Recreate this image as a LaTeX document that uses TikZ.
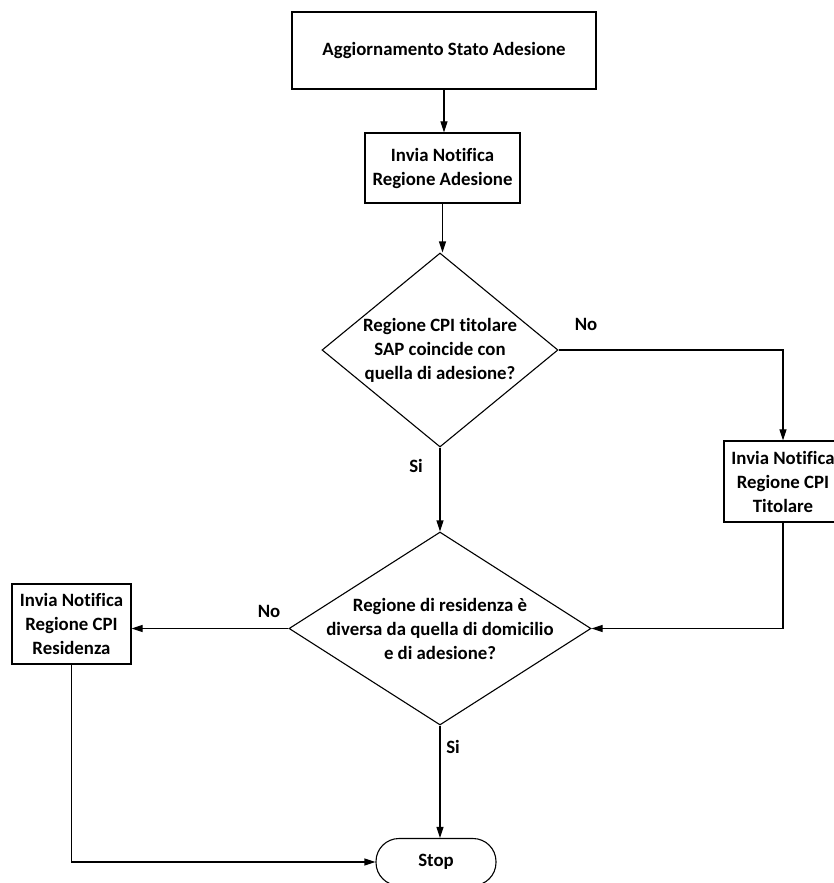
\documentclass[tikz,border=0pt]{standalone}
\usepackage{fontspec}
\setmainfont{Carlito}[Ligatures=NoCommon]
\usetikzlibrary{shapes.geometric,arrows.meta}
\begin{document}
\begin{tikzpicture}[x=1pt,y=-1pt,
  every node/.style={font=\bfseries\fontsize{18.8}{24}\selectfont},
  box/.style={draw, line width=1.3pt, align=center, inner sep=0pt},
  dec/.style={draw, diamond, line width=1.1pt, inner sep=0pt, aspect=1.2},
  term/.style={draw, line width=1.1pt, rounded corners=23pt, minimum width=120pt, minimum height=47pt, inner sep=0pt},
  conn/.style={line width=1.1pt, -{Triangle[length=11pt,width=7pt]}},
  lbl/.style={inner sep=0pt}]
\useasboundingbox (0,0) rectangle (834,883);
\clip (0,0) rectangle (834,883);
\fill[white] (0,0) rectangle (834,883);

\node[box, minimum width=304pt, minimum height=77pt] (b1) at (444,50.5) {Aggiornamento Stato Adesione};
\node[box, minimum width=155pt, minimum height=70pt] (b2) at (442.5,168) {Invia Notifica\\Regione Adesione};
\node[dec, minimum width=236pt, minimum height=194pt] (d1) at (440,350) {};
\node[align=center] (t1) at (d1) {Regione CPI titolare\\SAP coincide con\\quella di adesione?};
\node[box, minimum width=118pt, minimum height=81pt] (b3) at (783,481.5) {Invia Notifica\\Regione CPI\\Titolare};
\node[dec, minimum width=302pt, minimum height=193pt] (d2) at (440,628.5) {};
\node[align=center] (t2) at (d2) {Regione di residenza è\\diversa da quella di domicilio\\e di adesione?};
\node[box, minimum width=119pt, minimum height=80pt] (b4) at (71.5,624) {Invia Notifica\\Regione CPI\\Residenza};
\node[term] (stop) at (436,862) {Stop};

\node[lbl] (no1) at (586,324) {No};
\node[lbl] (si1) at (416,466) {Si};
\node[lbl] (no2) at (269,611) {No};
\node[lbl] (si2) at (453,747) {Si};

\draw[conn] (b1.south) -- (b1.south |- b2.north);
\draw[conn] (b2.south) -- (b2.south |- d1.north);
\draw[conn] (d1.east) -| (b3.north);
\draw[conn] (d1.south) -- (d2.north);
\draw[conn] (b3.south) |- (d2.east);
\draw[conn] (d2.west) -- (d2.west -| b4.east);
\draw[conn] (b4.south) |- (stop.west);
\draw[conn] (d2.south) -- (d2.south |- stop.north);
\end{tikzpicture}
\end{document}
